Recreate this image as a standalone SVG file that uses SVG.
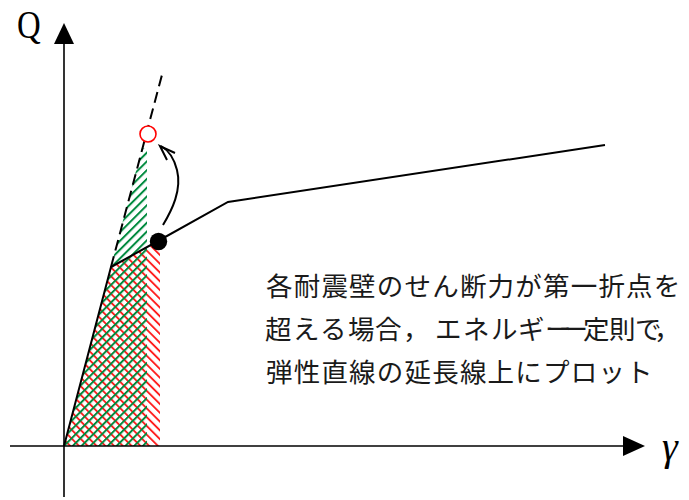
<svg xmlns="http://www.w3.org/2000/svg" width="689" height="500" viewBox="0 0 689 500">
<style>
.ax{stroke:#000;stroke-width:1.6;fill:none}
.ln{stroke:#000;stroke-width:2;fill:none}
.jp{font-family:"Noto Sans CJK JP","Noto Sans CJK SC",sans-serif;font-size:26.5px;fill:#1a1a1a}
.lat{font-family:"Liberation Serif","DejaVu Serif",serif;fill:#000}
</style>
<defs>
<pattern id="hg" patternUnits="userSpaceOnUse" width="6.2" height="10" patternTransform="rotate(45)">
<line x1="1" y1="0" x2="1" y2="10" stroke="#008a3e" stroke-width="2"/>
</pattern>
<pattern id="hr" patternUnits="userSpaceOnUse" width="6.2" height="10" patternTransform="rotate(-45)">
<line x1="1" y1="0" x2="1" y2="10" stroke="#ff1010" stroke-width="1.8"/>
</pattern>
</defs>
<g id="hatch-red"><polygon points="64,446 111,267 160,240 160,446" fill="url(#hr)"/></g>
<g id="hatch-green"><polygon points="64,446 142,148 147,148 147,446" fill="url(#hg)"/></g>
<g id="axes">
<line class="ax" x1="64" y1="497" x2="64" y2="40"/>
<polygon points="64,23 54,44 74,44" fill="#000"/>
<line class="ax" x1="10" y1="446" x2="626" y2="446"/>
<polygon points="645,446 623,436 623,456" fill="#000"/>
<text class="lat" x="17" y="38" font-size="41" transform="translate(17 0) scale(0.8 1) translate(-17 0)">Q</text>
<text class="lat" x="662" y="460" font-size="40" font-style="italic">γ</text>
</g>
<g id="connectors">
<line class="ln" x1="111" y1="267" x2="163" y2="71" stroke-dasharray="11 6" stroke-width="1.6"/>
<polyline class="ln" points="64,446 111,267 158,241 228,202 605,145"/>
<path class="ln" d="M163,225 C172,210 182,190 177,170 C174,158 168,150 161,146" stroke-width="1.6"/>
<polyline class="ln" points="175,153 160,146 167,160" stroke-width="1.6"/>
</g>
<g id="point-red"><circle cx="148" cy="134" r="8" fill="#fff" stroke="#ff0000" stroke-width="1.6"/></g>
<g id="point-black"><circle cx="158.5" cy="241.5" r="8.7" fill="#000"/></g>
<g id="note">
<text class="jp" y="296" x="266 293.7 321.4 349.1 376.8 404.5 432.2 459.9 487.6 515.3 543 570.7 598.4 626.1 653.8">各耐震壁のせん断力が第一折点を</text>
<text class="jp" y="339" x="265 293 320 348 375 403 435 463 491 518 545 560 583 609 635 654">超える場合，エネルギー一定則で，</text>
<text class="jp" y="382" x="266 293.7 321.4 349.1 376.8 404.5 432.2 459.9 487.6 515.3 543 570.7 598.4 626.1">弾性直線の延長線上にプロット</text>
</g>
</svg>
